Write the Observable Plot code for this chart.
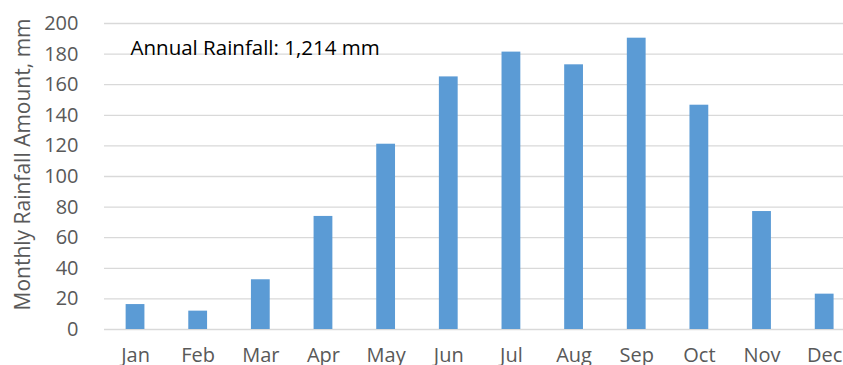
<!DOCTYPE html>
<html>
<head>
<meta charset="utf-8">
<script src="https://cdn.jsdelivr.net/npm/d3@7"></script>
<script src="https://cdn.jsdelivr.net/npm/@observablehq/plot@0.6"></script>
<style>
  html, body { margin: 0; padding: 0; background: #fff; overflow: hidden; }
  #chart svg { display: block; overflow: hidden; }
</style>
</head>
<body>
<div id="chart"></div>
<script>
const months = ["Jan", "Feb", "Mar", "Apr", "May", "Jun", "Jul", "Aug", "Sep", "Oct", "Nov", "Dec"];
const rainfall = [16.3, 12.0, 32.5, 73.9, 121.1, 165.1, 181.3, 173.0, 190.4, 146.6, 77.1, 23.1];
const yTicks = [0, 20, 40, 60, 80, 100, 120, 140, 160, 180, 200];
const yLabel = "Monthly Rainfall Amount, mm";
const annotation = "Annual Rainfall: 1,214 mm";
const annotationPos = {month: "Jan", value: 184};

const data = months.map((m, i) => ({month: m, value: rainfall[i]}));

const font = "'Open Sans', sans-serif";
const gray = "#595959";

const chart = Plot.plot({
  width: 843,
  height: 365,
  marginTop: 23,
  marginBottom: 36,
  marginLeft: 104,
  marginRight: 0,
  style: {fontFamily: font, fontSize: "20px", background: "#fff"},
  x: {domain: months, range: [103.7, 855.5], paddingInner: 0.7, paddingOuter: 0.35, align: 0.5, round: false},
  y: {domain: [0, 200], ticks: yTicks},
  marks: [
    Plot.gridY(yTicks, {stroke: "#d9d9d9", strokeOpacity: 1, strokeWidth: 1.3}),
    Plot.barY(data, {x: "month", y: "value", fill: "#5b9bd5"}),
    Plot.axisY(yTicks, {tickSize: 0, tickPadding: 26, label: null, fill: gray, fontSize: 20}),
    Plot.axisX({tickSize: 0, tickPadding: 18, label: null, fill: gray, fontSize: 20}),
    Plot.text([yLabel], {text: d => d, frameAnchor: "left", rotate: -90, dx: -81, dy: -12,
      textAnchor: "middle", lineAnchor: "middle", fill: gray, fontSize: 21}),
    Plot.text([annotation], {text: d => d, x: () => annotationPos.month, y: () => annotationPos.value,
      textAnchor: "start", lineAnchor: "middle", dx: -5, fill: "#000", fontSize: 20.5})
  ]
});
document.getElementById("chart").appendChild(chart);
</script>
</body>
</html>
